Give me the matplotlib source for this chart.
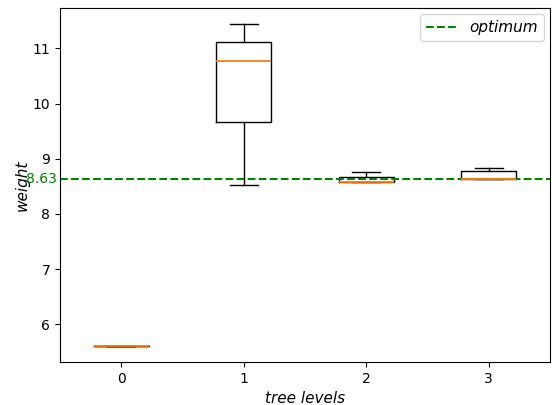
import matplotlib
matplotlib.use("Agg")
import matplotlib.pyplot as plt

levels = [0, 1, 2, 3]
whislo = [5.61, 8.52, 8.585, 8.63]
q1 = [5.61, 9.66, 8.585, 8.63]
med = [5.61, 10.78, 8.585, 8.63]
q3 = [5.61, 11.11, 8.67, 8.77]
whishi = [5.61, 11.44, 8.76, 8.83]
optimum = 8.63

stats = [dict(whislo=a, q1=b, med=c, q3=d, whishi=e, fliers=[])
         for a, b, c, d, e in zip(whislo, q1, med, q3, whishi)]

fig = plt.figure(figsize=(5.52, 4.05), dpi=100)
ax = fig.add_axes([60/552, 1-362/405, 490/552, 354/405])
ax.bxp(stats, positions=levels, medianprops=dict(linewidth=1.3))
ax.axhline(optimum, color='green', linestyle='--', label='optimum')
ax.text(-0.78, optimum, f'{optimum:.2f}', color='green', va='center', ha='left')
ax.set_xticks(levels)
ax.set_xticklabels([str(l) for l in levels])
ax.set_xlim(-0.5, 3.5)
ax.set_xlabel('tree levels', fontstyle='italic', fontsize=11)
ax.set_ylabel('weight', fontstyle='italic', fontsize=11, labelpad=2)
leg = ax.legend(loc='upper right', prop={'style': 'italic', 'size': 11},
                borderaxespad=0.4)
fig.savefig('out.png', dpi=100)
